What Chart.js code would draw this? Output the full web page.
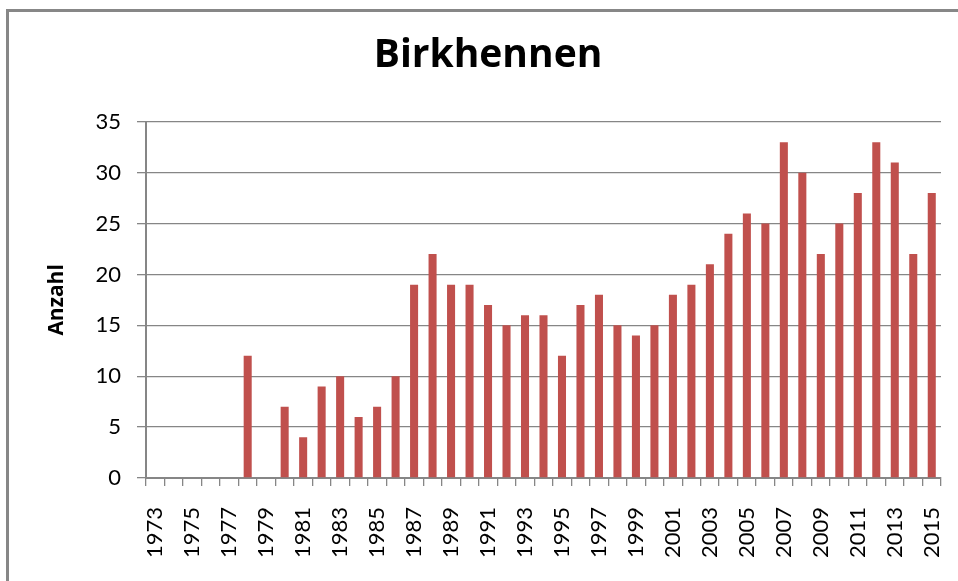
<!DOCTYPE html>
<html>
<head>
<meta charset="utf-8">
<script src="https://cdn.jsdelivr.net/npm/chart.js@4/dist/chart.umd.min.js"></script>
<style>
  html, body { margin: 0; padding: 0; background: #fff; overflow: hidden; }
  #wrap { position: relative; width: 958px; height: 581px; }
  #frame { position: absolute; left: 6px; top: 9px; width: 1000px; height: 1000px;
           border-left: 3px solid #878787; border-top: 3px solid #878787; pointer-events: none; }
  canvas { position: absolute; left: 0; top: 0; }
</style>
</head>
<body>
<div id="wrap">
  <canvas id="c" width="958" height="581"></canvas>
  <div id="frame"></div>
</div>
<script>
const years = ["1973","1974","1975","1976","1977","1978","1979","1980","1981","1982","1983","1984","1985","1986","1987","1988","1989","1990","1991","1992","1993","1994","1995","1996","1997","1998","1999","2000","2001","2002","2003","2004","2005","2006","2007","2008","2009","2010","2011","2012","2013","2014","2015"];
const counts = [0,0,0,0,0,12,0,7,4,9,10,6,7,10,19,22,19,19,17,15,16,16,12,17,18,15,14,15,18,19,21,24,26,25,33,30,22,25,28,33,31,22,28];
const yTicks = [0,5,10,15,20,25,30,35];
const chartTitle = "Birkhennen";
const yTitle = "Anzahl";

const gridColor = "#868686";
const fontFam = "Lato, 'Open Sans', sans-serif";
const boldFam = "'Open Sans', Lato, sans-serif";

new Chart(document.getElementById("c"), {
  type: "bar",
  data: {
    labels: years,
    datasets: [{
      data: counts,
      backgroundColor: "#C0504D",
      borderWidth: 0,
      categoryPercentage: 1.0,
      barPercentage: 0.435
    }]
  },
  options: {
    responsive: false,
    animation: false,
    devicePixelRatio: 1,
    layout: { padding: { left: 35, right: 17, top: 0, bottom: 0 } },
    plugins: {
      legend: { display: false },
      tooltip: { enabled: false },
      title: {
        display: true,
        text: chartTitle,
        color: "#000",
        font: { family: boldFam, size: 39, weight: "bold", lineHeight: 1.2 },
        padding: { top: 32, bottom: 43 }
      }
    },
    scales: {
      x: {
        afterFit: (s) => { s.height = 103; s.paddingLeft = 0; s.paddingRight = 0; },
        grid: {
          display: true,
          drawOnChartArea: false,
          drawTicks: true,
          tickLength: 8,
          color: gridColor,
          lineWidth: 1.3,
          offset: true
        },
        border: { display: true, color: gridColor, width: 2 },
        ticks: {
          autoSkip: false,
          minRotation: 90,
          maxRotation: 90,
          padding: 21,
          color: "#000",
          font: { family: fontFam, size: 22 },
          callback: function(v, i) { return i % 2 === 0 ? years[i] : ""; }
        }
      },
      y: {
        min: 0,
        max: 35,
        afterFit: (s) => { s.width = 111; },
        afterBuildTicks: (s) => { s.ticks = yTicks.map(v => ({ value: v })); },
        grid: {
          color: gridColor,
          lineWidth: 1.3,
          drawTicks: true,
          tickLength: 9
        },
        border: { display: true, color: gridColor, width: 2 },
        ticks: {
          padding: 16,
          color: "#000",
          font: { family: fontFam, size: 22 }
        },
        title: {
          display: true,
          text: yTitle,
          color: "#000",
          font: { family: boldFam, size: 21, weight: "bold" },
          padding: { top: 9, bottom: 0 }
        }
      }
    }
  }
});
</script>
</body>
</html>
